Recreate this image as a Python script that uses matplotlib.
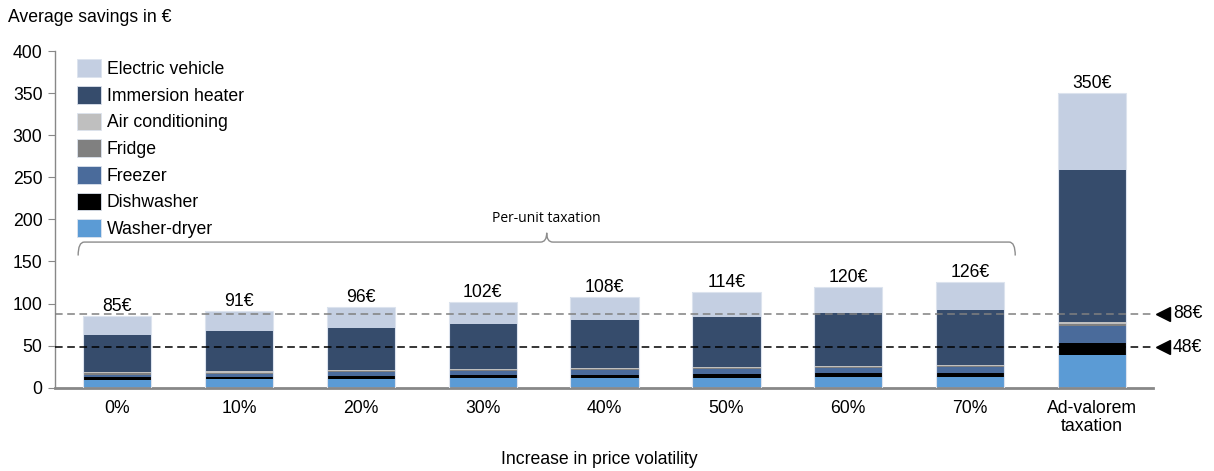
import matplotlib
matplotlib.use("Agg")
import matplotlib.pyplot as plt
from matplotlib.path import Path
from matplotlib.patches import PathPatch, Patch
import numpy as np

plt.rcParams['font.family'] = ['Liberation Sans', 'DejaVu Sans']

categories = ["0%", "10%", "20%", "30%", "40%", "50%", "60%", "70%", "Ad-valorem\ntaxation"]

washer_dryer     = [9.0, 10.0, 10.0, 11.0, 11.0, 12.0, 12.5, 13.0, 39.0]
dishwasher       = [3.2, 3.0, 4.0, 4.0, 4.5, 4.5, 4.5, 5.0, 14.5]
freezer          = [3.3, 3.5, 5.0, 5.0, 5.5, 5.5, 6.5, 6.5, 19.5]
fridge           = [1.5, 1.5, 1.0, 1.0, 1.0, 1.2, 1.2, 1.3, 3.0]
air_conditioning = [1.5, 1.5, 1.0, 1.5, 1.5, 1.3, 1.1, 1.5, 2.5]
immersion_heater = [44.0, 47.5, 50.0, 53.5, 57.0, 59.0, 62.5, 65.0, 180.5]
electric_vehicle = [22.5, 24.0, 25.0, 26.0, 27.5, 30.5, 31.7, 33.7, 91.0]

series_names = ["Washer-dryer", "Dishwasher", "Freezer", "Fridge",
                "Air conditioning", "Immersion heater", "Electric vehicle"]
series_values = [washer_dryer, dishwasher, freezer, fridge,
                 air_conditioning, immersion_heater, electric_vehicle]
series_colors = ["#5B9BD5", "#000000", "#4A6B9B", "#808080",
                 "#BFBFBF", "#364C6C", "#C4CFE2"]

reference_levels = [88, 48]
reference_colors = ["#808080", "#000000"]

FS = 12.7

fig = plt.figure(figsize=(12.14, 4.71), dpi=100)
ax = fig.add_axes([0.0453, 0.1769, 0.9044, 0.7148])

x = np.arange(len(categories))
bottom = np.zeros(len(categories))
for name, vals, col in zip(series_names, series_values, series_colors):
    v = np.array(vals)
    ax.bar(x, v, bottom=bottom, width=0.56, color=col, edgecolor=col,
           linewidth=0.0, label=name, zorder=2)
    bottom += v

totals = bottom
# light outline around each whole bar
ax.bar(x, totals, width=0.56, facecolor="none", edgecolor="#DCE3EE",
       linewidth=0.8, zorder=3)

for xi, t in zip(x, totals):
    ax.text(xi, t + 1.0, f"{t:.0f}€", ha="center", va="bottom", fontsize=FS)

xlim = (-0.51, 8.5)
ax.set_xlim(*xlim)
ax.set_ylim(0, 400)
ax.set_yticks(np.arange(0, 401, 50))
ax.tick_params(axis="y", labelsize=FS, length=5, color="#888888", direction="out", pad=4)
ax.set_xticks(x)
ax.set_xticklabels(categories, fontsize=FS, linespacing=1.1)
ax.tick_params(axis="x", length=0, pad=9)

for s in ["top", "right"]:
    ax.spines[s].set_visible(False)
ax.spines["left"].set_color("#888888")
ax.spines["left"].set_linewidth(1.0)
ax.spines["bottom"].set_color("#888888")
ax.spines["bottom"].set_linewidth(2.0)

# reference lines with markers and labels on the right
for lvl, col in zip(reference_levels, reference_colors):
    ax.hlines(lvl, xlim[0], xlim[1], colors=col, linestyles=(0, (5, 3)),
              linewidth=1.1, zorder=4, clip_on=False)
    ax.plot([8.58], [lvl], marker="<", markersize=10, color="black",
            clip_on=False, zorder=5)
    ax.text(8.665, lvl, f"{lvl}€", ha="left", va="center", fontsize=FS,
            clip_on=False)

# brace over the per-unit taxation bars
x0, x1 = -0.32, 7.37
xc = (x0 + x1) / 2
y_line, y_end, y_peak = 173, 157, 184
r = 0.05
verts = [
    (x0, y_end), (x0, y_line), (x0 + r, y_line),
    (xc - r, y_line), (xc, y_line), (xc, y_peak),
    (xc, y_line), (xc + r, y_line),
    (x1 - r, y_line), (x1, y_line), (x1, y_end),
]
codes = [Path.MOVETO, Path.CURVE3, Path.CURVE3,
         Path.LINETO, Path.CURVE3, Path.CURVE3,
         Path.CURVE3, Path.CURVE3,
         Path.LINETO, Path.CURVE3, Path.CURVE3]
ax.add_patch(PathPatch(Path(verts, codes), facecolor="none",
                       edgecolor="#8C8C8C", linewidth=1.0, zorder=3))
ax.text(xc, y_peak + 8, "Per-unit taxation", ha="center", va="bottom",
        fontsize=10, family=["Open Sans", "DejaVu Sans"])

# legend, top series first
handles = [Patch(facecolor=c, edgecolor="#DCE3EE", linewidth=0.6, label=n)
           for n, c in zip(series_names, series_colors)][::-1]
ax.legend(handles=handles, loc="upper left", bbox_to_anchor=(0.02, 0.975),
          frameon=False, fontsize=FS, handlelength=1.35, handleheight=1.15,
          labelspacing=0.45, handletextpad=0.35, borderaxespad=0, borderpad=0)

fig.text(0.007, 0.962, "Average savings in €", fontsize=FS, ha="left", va="center")
fig.text(0.4935, 0.025, "Increase in price volatility", fontsize=FS,
         ha="center", va="center")

fig.savefig("out.png", dpi=100)
